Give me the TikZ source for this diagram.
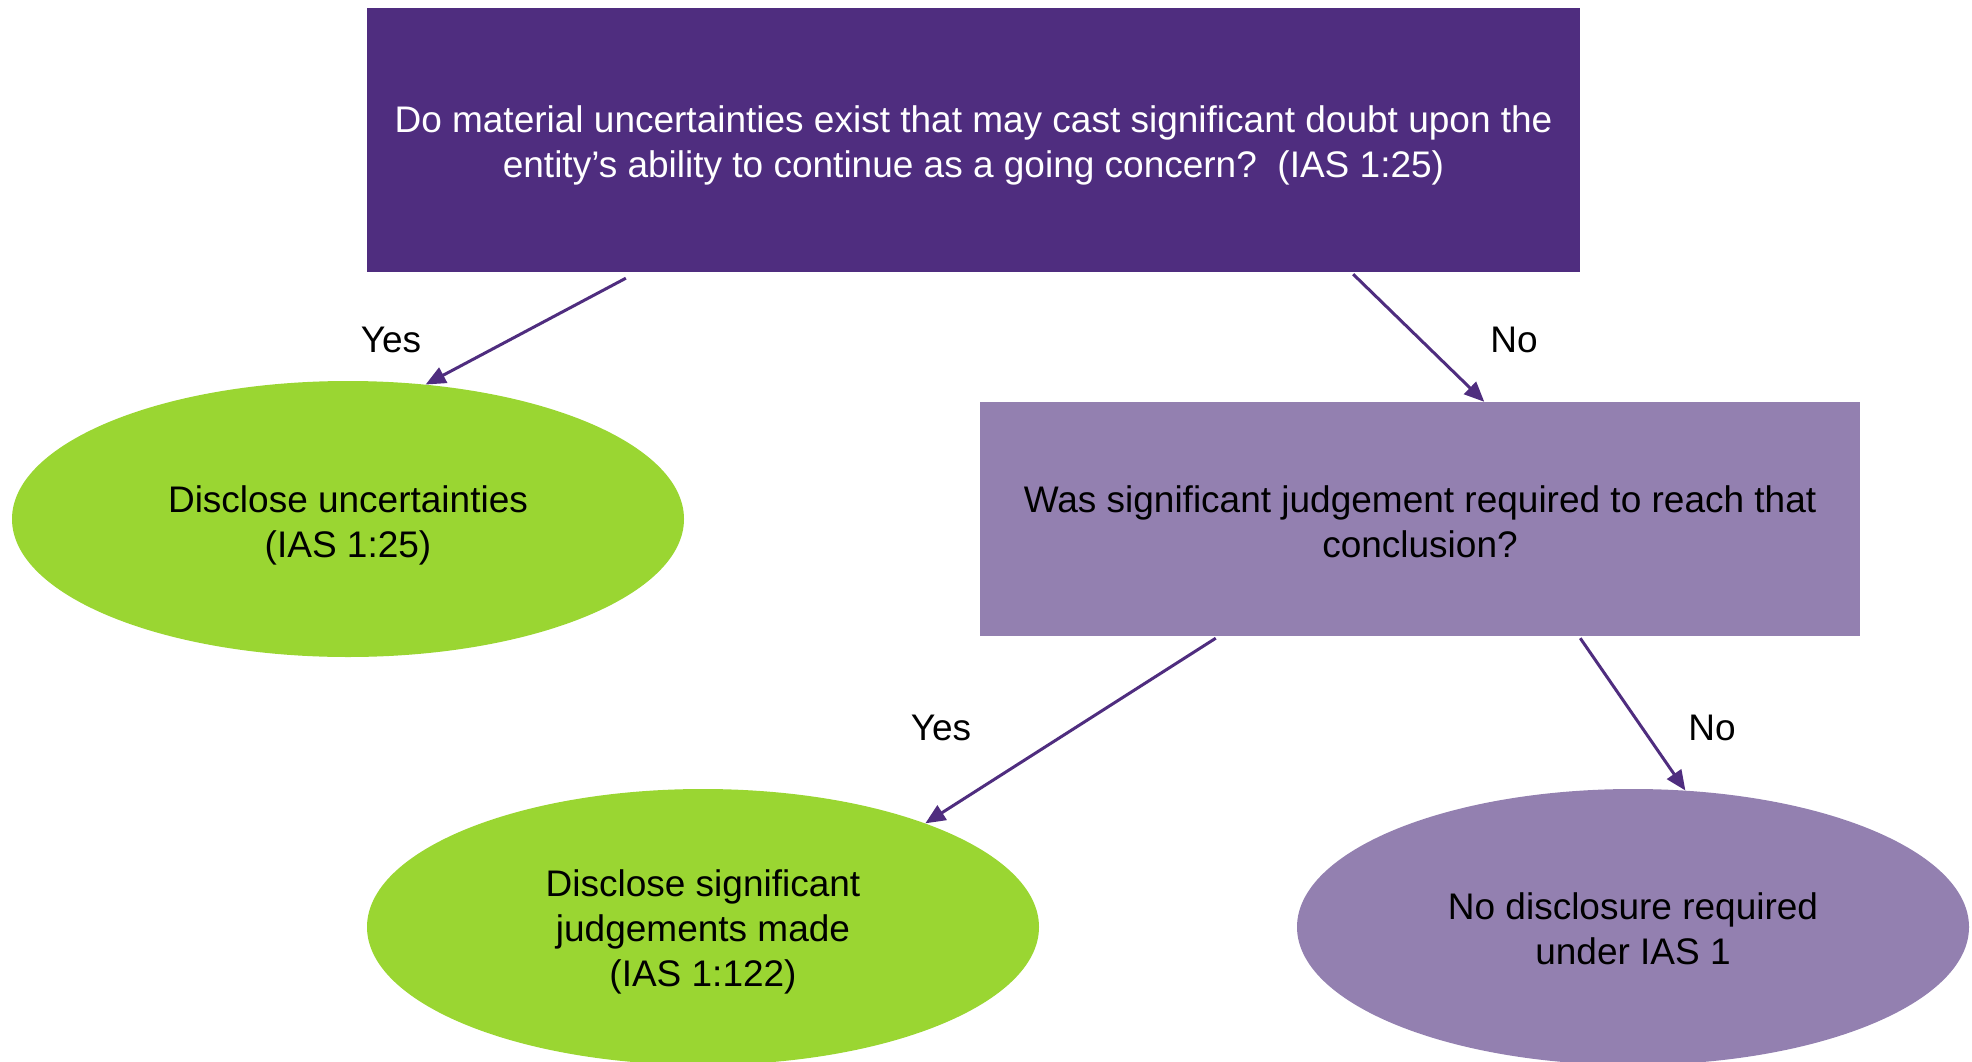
\documentclass[tikz,border=0pt]{standalone}
\usepackage{fontspec}
\setmainfont{Liberation Sans}
\usetikzlibrary{arrows.meta,calc,shapes.geometric}
\definecolor{darkpurple}{HTML}{4F2D7F}
\definecolor{lightpurple}{HTML}{9380B0}
\definecolor{leafgreen}{HTML}{9AD632}
\tikzset{
  txt/.style={font=\fontsize{37}{45}\selectfont, align=center},
  boxnode/.style={rectangle, inner sep=0pt},
  ovalnode/.style={ellipse, inner sep=0pt, minimum width=672pt, minimum height=276pt},
  arr/.style={draw=darkpurple, line width=3pt, -{Triangle[length=20pt,width=17pt]}},
  lbl/.style={txt, text=black}
}
\begin{document}
\begin{tikzpicture}[x=1pt,y=-1pt]
\useasboundingbox (0,0) rectangle (1972,1062);
\node[boxnode, fill=darkpurple, minimum width=1213pt, minimum height=264pt,
  label={[txt, text=white, yshift=-5pt]center:Do material uncertainties exist that may cast significant doubt upon the\\entity’s ability to continue as a going concern?~~(IAS 1:25)}] (top) at (973.5,140) {};
\node[boxnode, fill=lightpurple, minimum width=880pt, minimum height=234pt,
  label={[txt, yshift=-3pt]center:Was significant judgement required to reach that\\conclusion?}] (q2) at (1420,519) {};
\node[ovalnode, fill=leafgreen,
  label={[txt, yshift=-6pt]center:Disclose uncertainties\\(IAS 1:25)}] (e1) at (348,519) {};
\node[ovalnode, fill=leafgreen,
  label={[txt, yshift=-5pt]center:Disclose significant\\judgements made\\(IAS 1:122)}] (e2) at (703,927) {};
\node[ovalnode, fill=lightpurple,
  label={[txt, yshift=-2pt]center:No disclosure required\\under IAS 1}] (e3) at (1633,927) {};
\coordinate (s1) at ($($(top.south west)!0.2135!(top.south east)$)+(0,6)$);
\coordinate (s2) at ($($(top.south west)!0.8129!(top.south east)$)+(0,2)$);
\coordinate (t2) at ($(q2.north west)!0.573!(q2.north east)$);
\coordinate (s3) at ($($(q2.south west)!0.268!(q2.south east)$)+(0,2)$);
\coordinate (s4) at ($($(q2.south west)!0.682!(q2.south east)$)+(0,2)$);
\draw[arr] (s1) -- (e1.60);
\draw[arr] (s2) -- (t2);
\draw[arr] (s3) -- (e2.25);
\draw[arr] (s4) -- (e3.69);
\node[lbl] (yes1) at (391,340) {Yes};
\node[lbl] (no1) at (1514,340) {No};
\node[lbl] (yes2) at (941,728) {Yes};
\node[lbl] (no2) at (1712,728) {No};
\end{tikzpicture}
\end{document}
